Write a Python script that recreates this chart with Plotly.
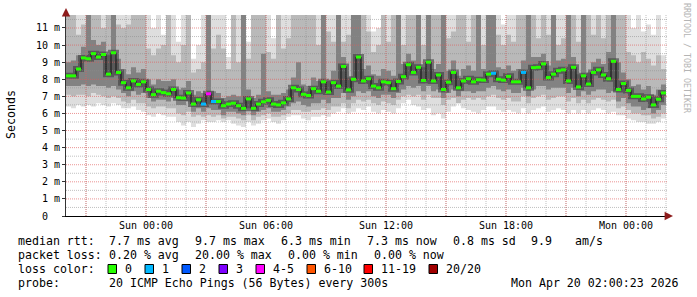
import pandas as pd
import plotly.graph_objects as go

# ---------------- data ----------------
start_time = "2026-04-18 20:00"
step = "15min"
x_range = ["2026-04-18 20:00", "2026-04-20 02:06"]
y_top = 11.76

median_ms = [
    8.2, 8.2, 8.6, 9.25, 9.2, 9.5, 9.3, 9.45, 8.3, 9.55,
    8.4, 7.8, 7.5, 7.9, 7.7, 7.85, 7.4, 7.1, 7.3, 7.22,
    7.15, 7.4, 6.92, 6.9, 7.2, 6.55, 6.8, 6.55, 7.15, 6.7,
    6.7, 6.45, 6.55, 6.6, 6.45, 6.3, 6.85, 6.3, 6.55, 6.68,
    6.77, 6.55, 6.5, 6.62, 6.85, 7.5, 7.4, 7.12, 7.05, 7.45,
    7.3, 7.85, 7.25, 7.8, 7.6, 8.75, 7.38, 8.0, 9.3, 7.9,
    8.03, 7.6, 7.5, 7.85, 7.8, 7.45, 7.87, 8.15, 8.85, 8.4,
    8.7, 7.93, 9.0, 7.9, 8.25, 7.4, 7.83, 8.4, 7.5, 7.9,
    8.03, 7.85, 7.97, 7.95, 8.3, 8.35, 8.0, 7.95, 8.17, 7.85,
    7.85, 8.4, 7.5, 8.68, 8.7, 8.9, 8.1, 8.3, 8.5, 8.55,
    7.9, 8.7, 7.55, 8.2, 7.72, 8.4, 8.55, 8.25, 8.03, 9.05,
    7.4, 7.75, 7.35, 7.0, 7.0, 6.85, 6.95, 6.5, 6.83, 7.2,
]

loss_pings = [
    0, 0, 0, 0, 0, 0, 0, 0, 0, 0,
    0, 0, 0, 0, 0, 0, 0, 0, 0, 0,
    0, 0, 0, 0, 0, 0, 0, 1, 4, 1,
    0, 0, 0, 0, 0, 0, 0, 0, 0, 0,
    0, 0, 0, 0, 0, 0, 0, 0, 0, 0,
    0, 0, 0, 0, 0, 0, 0, 0, 0, 0,
    0, 0, 0, 0, 0, 0, 0, 0, 0, 0,
    0, 0, 0, 0, 0, 0, 0, 0, 0, 0,
    0, 0, 0, 0, 0, 1, 0, 0, 0, 0,
    0, 1, 0, 0, 0, 0, 0, 0, 0, 0,
    0, 0, 0, 0, 0, 0, 0, 0, 0, 0,
    0, 0, 0, 0, 0, 0, 0, 0, 0, 0,
]

smoke_min = [
    6.4, 6.3, 6.5, 6.4, 6.5, 6.4, 6.6, 6.5, 6.4, 6.6,
    6.5, 6.3, 6.3, 6.4, 6.2, 6.1, 5.9, 5.8, 6.0, 5.9,
    5.8, 5.8, 5.5, 5.3, 5.5, 5.2, 5.4, 5.6, 5.5, 5.5,
    5.6, 5.5, 5.6, 5.4, 5.3, 5.2, 5.5, 5.3, 5.4, 5.6,
    5.7, 5.5, 5.4, 5.6, 5.8, 5.9, 5.9, 5.7, 5.6, 5.8,
    5.8, 5.9, 5.8, 6.0, 6.1, 6.3, 6.0, 6.1, 6.3, 6.2,
    6.4, 6.1, 6.0, 6.2, 6.1, 6.0, 6.3, 6.6, 6.8, 6.5,
    6.4, 6.2, 6.3, 5.9, 6.0, 5.7, 6.1, 6.4, 6.6, 6.3,
    6.2, 6.1, 6.0, 6.2, 6.4, 6.4, 6.2, 6.1, 6.2, 6.1,
    6.0, 6.3, 6.0, 6.2, 6.3, 6.4, 6.1, 6.2, 6.3, 6.2,
    6.0, 6.2, 6.0, 6.2, 6.0, 6.2, 6.3, 6.2, 6.0, 6.1,
    5.9, 5.9, 5.7, 5.6, 5.5, 5.5, 5.4, 5.4, 5.5, 5.7,
]

smoke_lo = [
    7.1, 7.0, 7.1, 7.1, 7.0, 7.2, 7.1, 7.0, 6.9, 7.0,
    6.9, 6.7, 6.6, 6.8, 6.6, 6.6, 6.4, 6.3, 6.4, 6.4,
    6.3, 6.3, 6.0, 5.9, 6.1, 5.8, 5.9, 5.8, 5.9, 5.8,
    5.9, 5.7, 5.8, 5.8, 5.7, 5.6, 5.9, 5.6, 5.8, 5.9,
    6.0, 5.8, 5.8, 5.9, 6.0, 6.2, 6.2, 6.1, 6.1, 6.2,
    6.2, 6.3, 6.2, 6.4, 6.4, 6.6, 6.3, 6.6, 6.8, 6.7,
    6.8, 6.6, 6.5, 6.7, 6.6, 6.5, 6.8, 7.0, 7.1, 7.0,
    7.1, 6.8, 7.1, 6.9, 6.9, 6.5, 6.8, 6.9, 6.6, 6.8,
    6.9, 6.8, 6.9, 6.8, 7.0, 7.1, 6.9, 6.8, 6.9, 6.7,
    6.7, 7.0, 6.6, 6.9, 7.0, 7.1, 6.8, 6.9, 7.0, 7.0,
    6.7, 6.9, 6.6, 6.8, 6.6, 6.8, 6.9, 6.8, 6.7, 6.8,
    6.3, 6.4, 6.2, 6.0, 6.0, 5.9, 5.9, 5.7, 5.8, 6.0,
]

smoke_core_lo = [
    7.6, 7.6, 7.6, 7.7, 7.6, 7.7, 7.6, 7.6, 7.5, 7.6,
    7.4, 7.2, 7.0, 7.3, 7.1, 7.2, 6.9, 6.7, 6.8, 6.8,
    6.7, 6.9, 6.5, 6.5, 6.7, 6.1, 6.3, 6.1, 6.3, 6.2,
    6.2, 5.9, 6.1, 6.1, 6.0, 5.9, 6.3, 5.9, 6.1, 6.2,
    6.3, 6.1, 6.1, 6.2, 6.4, 6.6, 6.7, 6.5, 6.4, 6.6,
    6.6, 6.8, 6.6, 6.9, 6.9, 7.2, 6.8, 7.0, 7.3, 7.2,
    7.3, 7.0, 6.9, 7.1, 7.1, 6.9, 7.2, 7.4, 7.6, 7.5,
    7.6, 7.3, 7.6, 7.3, 7.4, 6.9, 7.2, 7.4, 7.0, 7.3,
    7.3, 7.2, 7.3, 7.3, 7.5, 7.6, 7.4, 7.3, 7.4, 7.2,
    7.2, 7.5, 7.0, 7.4, 7.6, 7.6, 7.4, 7.5, 7.5, 7.5,
    7.2, 7.5, 7.0, 7.3, 7.1, 7.3, 7.4, 7.4, 7.2, 7.3,
    6.7, 6.9, 6.6, 6.4, 6.4, 6.2, 6.3, 6.0, 6.2, 6.5,
]

smoke_core_hi = [
    9.0, 9.1, 9.4, 9.9, 11.8, 10.3, 10.0, 10.2, 9.4, 11.8,
    9.2, 8.6, 8.3, 8.7, 8.4, 8.6, 8.0, 7.7, 8.0, 7.9,
    7.9, 8.0, 7.4, 7.5, 7.9, 7.1, 7.3, 7.2, 11.8, 7.3,
    7.2, 6.9, 7.0, 7.1, 7.0, 11.8, 7.4, 6.9, 7.1, 9.5,
    7.3, 7.1, 7.1, 7.2, 7.4, 8.1, 9.0, 7.7, 7.6, 8.1,
    7.9, 11.8, 7.9, 8.5, 11.8, 9.3, 8.1, 11.8, 11.8, 8.6,
    8.8, 8.3, 8.2, 8.6, 8.5, 8.2, 11.8, 8.9, 9.5, 9.1,
    11.8, 8.7, 11.8, 8.6, 8.9, 11.8, 8.5, 9.1, 8.2, 8.6,
    8.8, 8.5, 11.8, 8.6, 11.8, 11.8, 8.7, 8.6, 8.8, 8.5,
    8.6, 9.1, 11.8, 9.3, 9.3, 9.5, 8.8, 11.8, 9.1, 9.2,
    11.8, 9.3, 8.3, 11.8, 8.4, 9.0, 9.2, 8.9, 9.6, 11.8,
    9.0, 8.4, 8.0, 7.6, 7.7, 7.4, 7.6, 7.1, 7.4, 7.7,
]

smoke_hi = [
    11.8, 11.8, 10.6, 11.2, 11.8, 11.8, 11.8, 11.0, 11.8, 11.8,
    11.2, 11.0, 11.2, 11.8, 11.8, 11.8, 9.8, 9.4, 9.8, 10.0,
    11.8, 9.4, 9.0, 10.0, 11.8, 8.4, 8.6, 9.0, 11.8, 9.8,
    10.6, 9.8, 8.6, 11.8, 9.0, 11.8, 9.2, 11.8, 11.8, 11.8,
    9.6, 9.2, 11.8, 9.8, 10.4, 11.8, 11.8, 11.8, 11.8, 11.8,
    10.0, 11.8, 10.8, 10.2, 11.8, 10.2, 10.6, 11.8, 11.8, 11.8,
    10.8, 9.6, 10.0, 11.8, 10.2, 11.8, 11.8, 10.0, 11.8, 11.8,
    11.8, 10.0, 11.8, 11.8, 11.8, 11.8, 10.4, 10.8, 11.8, 11.8,
    10.2, 11.8, 11.8, 10.0, 11.8, 11.8, 10.6, 10.0, 10.6, 10.2,
    11.8, 11.8, 11.8, 11.8, 10.4, 11.8, 10.6, 11.8, 10.0, 10.4,
    11.8, 11.8, 10.2, 11.8, 11.8, 10.6, 11.8, 10.4, 11.8, 11.8,
    11.8, 11.8, 9.6, 9.4, 9.0, 9.6, 9.2, 8.8, 9.4, 8.6,
]

smoke_max = [
    11.8, 11.8, 11.8, 11.8, 11.8, 11.8, 11.8, 11.8, 11.8, 11.8,
    11.8, 11.8, 11.8, 11.8, 11.8, 11.8, 11.8, 11.0, 11.8, 10.6,
    11.8, 11.8, 10.2, 11.8, 11.8, 9.2, 10.0, 11.8, 11.8, 11.8,
    11.8, 11.8, 9.3, 11.8, 11.8, 11.8, 10.2, 11.8, 11.8, 11.8,
    11.8, 10.4, 11.8, 11.8, 11.8, 11.8, 11.8, 11.8, 11.8, 11.8,
    11.8, 11.8, 11.8, 11.8, 11.8, 11.8, 11.8, 11.8, 11.8, 11.8,
    11.8, 10.8, 11.0, 11.8, 11.8, 11.8, 11.8, 11.8, 11.8, 11.8,
    11.8, 11.8, 11.8, 11.8, 11.8, 11.8, 11.8, 11.8, 11.8, 11.8,
    11.8, 11.8, 11.8, 11.8, 11.8, 11.8, 11.8, 11.2, 11.8, 11.8,
    11.8, 11.8, 11.8, 11.8, 11.8, 11.8, 11.8, 11.8, 11.8, 11.8,
    11.8, 11.8, 11.8, 11.8, 11.8, 11.8, 11.8, 11.8, 11.8, 11.8,
    11.8, 11.8, 11.8, 11.0, 11.8, 10.8, 11.2, 10.6, 11.8, 9.4,
]

loss_labels = ["0", "1", "2", "3", "4-5", "6-10", "11-19", "20/20"]
loss_colors = ["#26ff00", "#00b8ff", "#0059ff", "#7e00ff",
               "#ff00ff", "#ff5500", "#ff0000", "#a10000"]
loss_class_max = [0, 1, 2, 3, 5, 10, 19, 20]

x_tick_vals = ["2026-04-19 00:00", "2026-04-19 06:00", "2026-04-19 12:00",
               "2026-04-19 18:00", "2026-04-20 00:00"]
x_tick_text = ["Sun 00:00", "Sun 06:00", "Sun 12:00", "Sun 18:00", "Mon 00:00"]
y_tick_vals = list(range(12))
y_tick_text = ["0\u00a0\u00a0"] + [f"{v} m" for v in range(1, 12)]

x_major_grid = pd.date_range("2026-04-18 21:00", "2026-04-20 00:00", freq="3h")
x_minor_grid = pd.date_range("2026-04-18 21:00", "2026-04-20 02:00", freq="1h")
y_major_grid = [v for v in range(1, 12)]
y_minor_grid = [v + 0.5 for v in range(0, 12)]

stats_rtt = ["median rtt:", "7.7 ms avg", "9.7 ms max", "6.3 ms min",
             "7.3 ms now", "0.8 ms sd", "9.9", "am/s"]
stats_loss = ["packet loss:", "0.20 % avg", "20.00 % max", "0.00 % min", "0.00 % now"]
probe_text = ["probe:", "20 ICMP Echo Pings (56 Bytes) every 300s"]
stamp_text = "Mon Apr 20 02:00:23 2026"

# ---------------- layout constants ----------------
W, H = 697, 297
ML, MR, MT, MB = 66, 29, 15, 81
PW, PH = W - ML - MR, H - MT - MB
MONO = "DejaVu Sans Mono"


def px(x):
    return (x - ML) / PW


def py(y):
    return (H - MB - y) / PH


edges = pd.date_range(start_time, periods=len(median_ms) + 1, freq=step)


def ext(a):
    return list(a) + [a[-1]]


fig = go.Figure()

bands = [
    (smoke_min, smoke_max, "#dedede"),
    (smoke_lo, smoke_hi, "#b9b9b9"),
    (smoke_core_lo, smoke_core_hi, "#828282"),
]
for lower, upper, col in bands:
    fig.add_trace(go.Scatter(x=edges, y=ext(lower), mode="lines",
                             line=dict(width=0, shape="hv"), hoverinfo="skip",
                             showlegend=False))
    fig.add_trace(go.Scatter(x=edges, y=ext(upper), mode="lines",
                             line=dict(width=0, shape="hv"), fill="tonexty",
                             fillcolor=col, hoverinfo="skip", showlegend=False))

# darker smoke right around the median (drawn as a wide soft stroke)
fig.add_trace(go.Scatter(x=edges, y=ext(median_ms), mode="lines",
                         line=dict(color="rgba(60,60,60,0.6)", width=6, shape="hv"),
                         hoverinfo="skip", showlegend=False))


def grid_trace(xs_list, ys_list, color):
    return go.Scatter(x=xs_list, y=ys_list, mode="lines",
                      line=dict(color=color, width=1, dash="1px,1px"),
                      hoverinfo="skip", showlegend=False)


# minor grid
gx, gy = [], []
for t in x_minor_grid:
    gx += [t, t, None]
    gy += [0, y_top, None]
for v in y_minor_grid:
    gx += [pd.Timestamp(x_range[0]), pd.Timestamp(x_range[1]), None]
    gy += [v, v, None]
fig.add_trace(grid_trace(gx, gy, "rgba(140,140,140,0.55)"))
# major grid
gx, gy = [], []
for t in x_major_grid:
    gx += [t, t, None]
    gy += [0, y_top, None]
for v in y_major_grid:
    gx += [pd.Timestamp(x_range[0]), pd.Timestamp(x_range[1]), None]
    gy += [v, v, None]
fig.add_trace(grid_trace(gx, gy, "rgba(225,90,90,0.65)"))

# median line
fig.add_trace(go.Scatter(x=edges, y=ext(median_ms), mode="lines",
                         line=dict(color="#111111", width=1, shape="hv"),
                         hoverinfo="skip", showlegend=False))


def loss_class(n):
    for k, m in enumerate(loss_class_max):
        if n <= m:
            return k
    return len(loss_class_max) - 1


for k, col in enumerate(loss_colors):
    xs, ys = [], []
    for i, m in enumerate(median_ms):
        if loss_class(loss_pings[i]) == k:
            xs += [edges[i], edges[i + 1], None]
            ys += [m, m, None]
    if xs:
        fig.add_trace(go.Scatter(x=xs, y=ys, mode="lines",
                                 line=dict(color=col, width=3),
                                 hoverinfo="skip", showlegend=False))

ann = []


def text(t, x, y, anchor="left", size=11.6, color="#000000", angle=0):
    ann.append(dict(text=t, x=px(x), y=py(y), xref="paper", yref="paper",
                    xanchor=anchor, yanchor="middle", showarrow=False,
                    textangle=angle, font=dict(family=MONO, size=size, color=color)))


# legend rows
for t, x in zip(stats_rtt, [16, 107, 193, 279, 365, 451, 529, 573]):
    text(t, x, 241)
for t, x in zip(stats_loss, [16, 107, 193, 286, 372]):
    text(t, x, 255)
text("loss color:", 16, 269)
sw_left = [108, 145, 182, 219, 256, 307, 364, 429]
shapes = []
for lab, col, x in zip(loss_labels, loss_colors, sw_left):
    shapes.append(dict(type="rect", xref="paper", yref="paper",
                       x0=px(x), x1=px(x + 8.5), y0=py(273.5), y1=py(264.5),
                       fillcolor=col, line=dict(color="#000000", width=1)))
    text(lab, x + 15, 269)
text(probe_text[0], 16, 283)
text(probe_text[1], 107, 283)
text(stamp_text, 681, 283, anchor="right")

text("Seconds", 11, 115, anchor="center", angle=-90)
text("RRDTOOL / TOBI OETIKER", 687, 58, anchor="center", size=8.3,
     color="#b4b4b4", angle=90)

# axis arrows
ann.append(dict(text="", x=px(66), y=py(8), xref="paper", yref="paper",
                ax=0, ay=6, showarrow=True, arrowhead=2, arrowsize=1.4,
                arrowwidth=1.2, arrowcolor="#8e1c1c"))
ann.append(dict(text="", x=px(673), y=py(216), xref="paper", yref="paper",
                ax=-6, ay=0, showarrow=True, arrowhead=2, arrowsize=1.4,
                arrowwidth=1.2, arrowcolor="#8e1c1c"))

fig.update_layout(
    width=W, height=H, autosize=False,
    margin=dict(l=ML, r=MR, t=MT, b=MB, pad=0),
    paper_bgcolor="#ffffff", plot_bgcolor="#ffffff",
    showlegend=False, annotations=ann, shapes=shapes,
    xaxis=dict(type="date", range=x_range, showgrid=False, zeroline=False,
               tickvals=x_tick_vals, ticktext=x_tick_text, ticks="",
               tickfont=dict(family=MONO, size=10, color="#000000"),
               showline=True, linecolor="#000000", linewidth=1),
    yaxis=dict(range=[0, y_top], showgrid=False, zeroline=False,
               tickvals=y_tick_vals, ticktext=y_tick_text,
               ticks="outside", ticklen=3, tickcolor="#333333",
               tickfont=dict(family=MONO, size=10, color="#000000"),
               showline=True, linecolor="#333333", linewidth=1),
)

fig.write_html("out.html")
